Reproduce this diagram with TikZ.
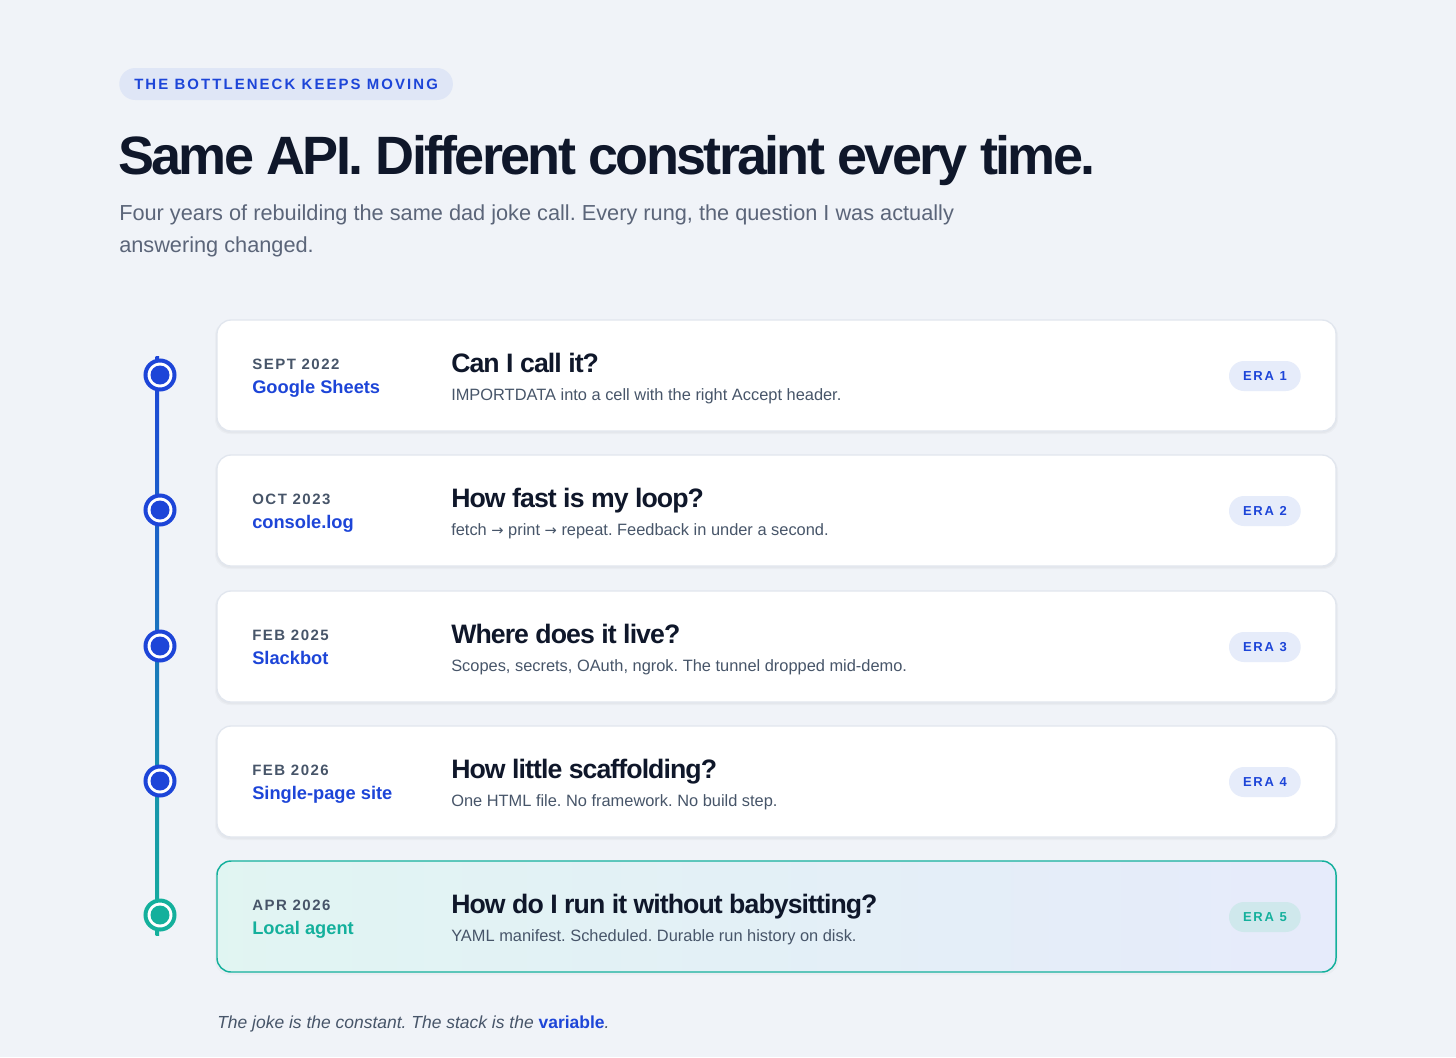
\documentclass[tikz,border=0pt]{standalone}
\usepackage{fontspec}
\setmainfont{Liberation Sans}
\newfontfamily\trackfont[LetterSpace=14]{Liberation Sans}
\newfontfamily\datefont[LetterSpace=10]{Liberation Sans}
\newfontfamily\titlefont[LetterSpace=-5]{Liberation Sans}
\newfontfamily\headfont[LetterSpace=-3.5]{Liberation Sans}
\newfontfamily\arrowfont{DejaVu Sans}
\usetikzlibrary{calc}

\definecolor{pagebg}{HTML}{F0F3F8}
\definecolor{inkdark}{HTML}{0F172A}
\definecolor{inkgray}{HTML}{475569}
\definecolor{subgray}{HTML}{5B6579}
\definecolor{eraBlue}{HTML}{1D45D8}
\definecolor{eraTeal}{HTML}{14B09C}
\definecolor{cardline}{HTML}{E1E6EE}
\definecolor{pillfill}{HTML}{E6ECFA}
\definecolor{tagfill}{HTML}{DFE6F6}
\definecolor{tealpill}{HTML}{CFE8EC}

% sizes given in pt (= 0.75 x screen px)
\newcommand{\fsz}[1]{\fontsize{#1}{#1}\selectfont}
\newcommand{\thento}{{\arrowfont\fontsize{11}{11}\selectfont →}}

\tikzset{
	card style/.style={
		draw=cardline,
		line width=1pt,
		fill=white,
		rounded corners=10.5pt
	},
	card shadow/.style={
		fill=black,
		opacity=0.025,
		rounded corners=11pt
	},
	date style/.style={
		anchor=base west,
		inner sep=0pt,
		text=inkgray,
		font=\datefont\bfseries\fsz{11.25}
	},
	tool style/.style={
		anchor=base west,
		inner sep=0pt,
		text=eraBlue,
		font=\bfseries\fsz{13.7}
	},
	question style/.style={
		anchor=base west,
		inner sep=0pt,
		text=inkdark,
		font=\headfont\bfseries\fsz{20}
	},
	detail style/.style={
		anchor=base west,
		inner sep=0pt,
		text=inkgray,
		font=\fsz{12.3}
	},
	era pill/.style={
		anchor=east,
		fill=pillfill,
		text=eraBlue,
		rounded corners=11.25pt,
		minimum height=22.5pt,
		inner xsep=10.5pt,
		inner ysep=0pt,
		font=\trackfont\bfseries\fsz{9.75}
	},
	dot ring/.style={
		draw=#1,
		line width=3pt,
		fill=white
	}
}

\begin{document}
\frenchspacing
\begin{tikzpicture}[x=0.75pt, y=-0.75pt]

	% --- 1. Page ---
	\fill[pagebg] (0,0) rectangle (1456,1057);
	\useasboundingbox (0,0) rectangle (1456,1057);

	% --- 2. Header ---
	\node[fill=tagfill, rounded corners=12pt, minimum height=24pt,
		inner xsep=11.25pt, inner ysep=0pt, anchor=west,
		text=eraBlue, font=\trackfont\bfseries\fsz{11.2}]
		(tag) at (119,84) {THE BOTTLENECK KEEPS MOVING};
	\node[anchor=base west, inner sep=0pt, text=inkdark, font=\titlefont\bfseries\fsz{40.5}]
		(headline) at (118,174) {Same API. Different constraint every time.};
	\node[anchor=base west, inner sep=0pt, text=subgray, font=\fsz{16.3}]
		(subline) at (119,220) {Four years of rebuilding the same dad joke call. Every rung, the question I was actually};
	\node[anchor=base west, inner sep=0pt, text=subgray, font=\fsz{16.3}]
		(subline2) at (119,252) {answering changed.};

	% --- 3. Timeline rail ---
	\coordinate (railtop) at (155.5,356);
	\coordinate (railbot) at (159,935);
	\shade[top color=eraBlue, bottom color=eraTeal, middle color=eraBlue!55!eraTeal]
		(railtop) rectangle (railbot);

	% --- 4. Cards 1-4 ---
	\foreach \i/\yy/\when/\tool/\ask/\note in {
		1/320/SEPT 2022/Google Sheets/Can I call it?/IMPORTDATA into a cell with the right Accept header.,
		2/455/OCT 2023/console.log/How fast is my loop?/{fetch \thento{} print \thento{} repeat. Feedback in under a second.},
		3/591/FEB 2025/Slackbot/Where does it live?/{Scopes, secrets, OAuth, ngrok. The tunnel dropped mid-demo.},
		4/726/FEB 2026/Single-page site/How little scaffolding?/{One HTML file. No framework. No build step.}} {
		% soft shadow
		\fill[card shadow] (215,\yy+1) rectangle (1338,\yy+114);
		\fill[card shadow] (216,\yy+2) rectangle (1337,\yy+113);
		\draw[card style] (217,\yy) rectangle (1336,\yy+111);
		\node[date style] (date\i) at (252,\yy+49) {\when};
		\node[tool style] (tool\i) at (252,\yy+73) {\tool};
		\node[question style] (ask\i) at (451,\yy+52) {\ask};
		\node[detail style] (note\i) at (451,\yy+80) {\note};
		\node[era pill] (era\i) at (1301,\yy+56) {ERA \i};
		% rail dot
		\draw[dot ring=eraBlue] (160,\yy+55) circle (14.5);
		\fill[eraBlue] (160,\yy+55) circle (9.5);
	}

	% --- 5. Card 5 (current era) ---
	\fill[card shadow] (215,862) rectangle (1338,975);
	\shade[left color=eraTeal!13!white, right color=eraBlue!11!white, rounded corners=10.5pt]
		(217,861) rectangle (1336,972);
	\draw[eraTeal, line width=1.1pt, rounded corners=10.5pt]
		(217,861) rectangle (1336,972);
	\node[date style] (date5) at (252,910) {APR 2026};
	\node[tool style, text=eraTeal] (tool5) at (252,934) {Local agent};
	\node[question style] (ask5) at (451,913) {How do I run it without babysitting?};
	\node[detail style] (note5) at (451,941) {YAML manifest. Scheduled. Durable run history on disk.};
	\node[era pill, fill=tealpill, text=eraTeal] (era5) at (1301,917) {ERA 5};
	\draw[dot ring=eraTeal] (160,915) circle (14.5);
	\fill[eraTeal] (160,915) circle (9.5);

	% --- 6. Footnote ---
	\node[anchor=base west, inner sep=0pt, text=inkgray, font=\itshape\fsz{13.1}]
		(coda) at (217,1028) {The joke is the constant. The stack is the {\upshape\bfseries\color{eraBlue}variable}.};

\end{tikzpicture}
\end{document}
